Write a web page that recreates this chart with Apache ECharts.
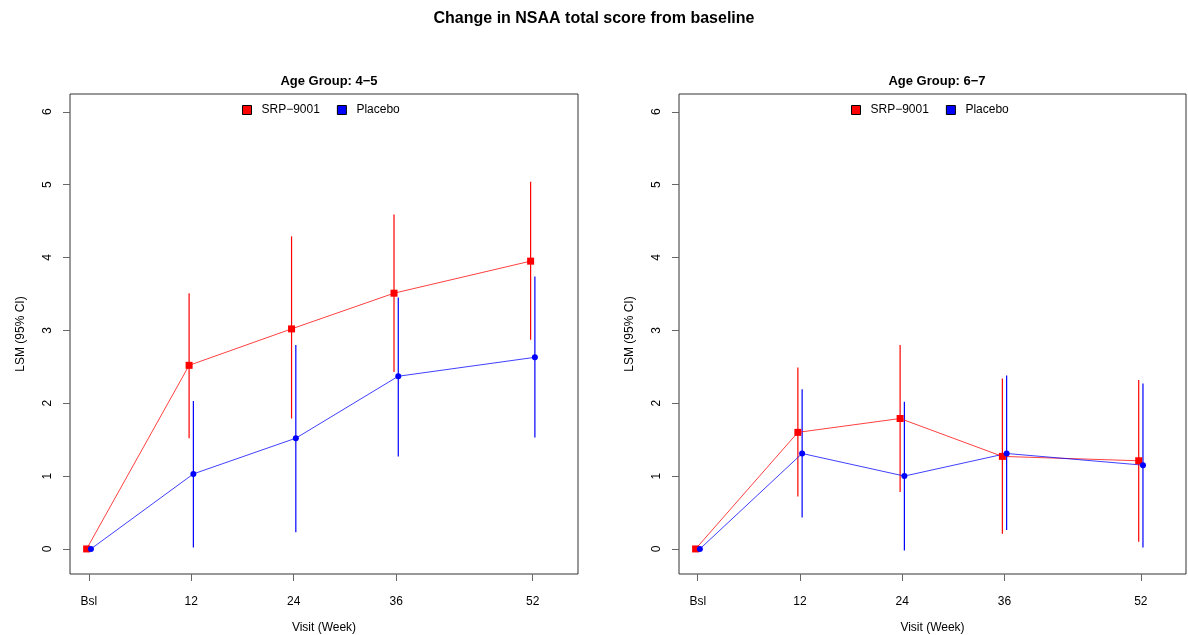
<!DOCTYPE html>
<html>
<head>
<meta charset="utf-8">
<script src="https://cdn.jsdelivr.net/npm/echarts@6/dist/echarts.min.js"></script>
<style>html,body{margin:0;padding:0;background:#fff}#c{width:1188px;height:635px}</style>
</head>
<body>
<div id="c"></div>
<script>
// ---- data ----
const weeks = [0, 12, 24, 36, 52];
const weekLabels = ['Bsl', '12', '24', '36', '52'];
const yTicks = [0, 1, 2, 3, 4, 5, 6];
const seriesNames = ['SRP\u22129001', 'Placebo'];
const panelTitles = ['Age Group: 4\u22125', 'Age Group: 6\u22127'];

const g45SrpMean = [0, 2.52, 3.02, 3.51, 3.95];
const g45SrpLo   = [0, 1.52, 1.79, 2.43, 2.87];
const g45SrpHi   = [0, 3.51, 4.29, 4.59, 5.04];
const g45PboMean = [0, 1.03, 1.52, 2.37, 2.63];
const g45PboLo   = [0, 0.02, 0.23, 1.27, 1.53];
const g45PboHi   = [0, 2.03, 2.80, 3.45, 3.74];

const g67SrpMean = [0, 1.60, 1.79, 1.27, 1.21];
const g67SrpLo   = [0, 0.72, 0.78, 0.21, 0.10];
const g67SrpHi   = [0, 2.49, 2.80, 2.34, 2.32];
const g67PboMean = [0, 1.31, 1.00, 1.31, 1.15];
const g67PboLo   = [0, 0.43, -0.02, 0.26, 0.02];
const g67PboHi   = [0, 2.19, 2.02, 2.38, 2.27];

// ---- chart ----
const FONT = '"Liberation Sans", Arial, Helvetica, sans-serif';
const RED = '#ff0000', BLUE = '#0000ff';
const dodge = [-0.25, 0.25];

const panels = [
  {srp: [g45SrpMean, g45SrpLo, g45SrpHi], pbo: [g45PboMean, g45PboLo, g45PboHi]},
  {srp: [g67SrpMean, g67SrpLo, g67SrpHi], pbo: [g67PboMean, g67PboLo, g67PboHi]}
];
const grids = [
  {left: 70, right: 610, top: 94, bottom: 61},
  {left: 679, right: 2, top: 94, bottom: 61}
];

const option = {
  animation: false,
  backgroundColor: '#fff',
  textStyle: {fontFamily: FONT},
  title: [
    {text: 'Change in NSAA total score from baseline', left: 'center', top: 6,
     textStyle: {fontFamily: FONT, fontSize: 16, fontWeight: 'bold', color: '#000'}},
    {text: panelTitles[0], left: 324, top: 70, textAlign: 'center',
     textStyle: {fontFamily: FONT, fontSize: 13, fontWeight: 'bold', color: '#000'}},
    {text: panelTitles[1], left: 932, top: 70, textAlign: 'center',
     textStyle: {fontFamily: FONT, fontSize: 13, fontWeight: 'bold', color: '#000'}}
  ],
  legend: [0, 1].map(p => ({
    left: grids[p].left + 172, top: 104, padding: 0, itemWidth: 9, itemHeight: 9, itemGap: 17,
    textStyle: {fontFamily: FONT, fontSize: 12, color: '#000', padding: [0, 0, 0, 5]},
    selectedMode: false,
    data: [
      {name: seriesNames[0], icon: 'rect', itemStyle: {color: RED, borderColor: '#000', borderWidth: 1}},
      {name: seriesNames[1], icon: 'rect', itemStyle: {color: BLUE, borderColor: '#000', borderWidth: 1}}
    ]
  })),
  grid: grids.map(g => Object.assign({show: true, borderColor: '#333', borderWidth: 1,
    backgroundColor: 'transparent', containLabel: false, outerBoundsMode: 'none'}, g)),
  xAxis: [0, 1].map(p => ({
    type: 'value', gridIndex: p, min: -2.2, max: 57.3, position: 'bottom',
    name: 'Visit (Week)', nameLocation: 'middle', nameGap: 48,
    nameTextStyle: {fontFamily: FONT, fontSize: 12, color: '#000'},
    splitLine: {show: false}, axisLine: {show: false, onZero: false},
    axisTick: {show: true, length: 7, customValues: weeks, lineStyle: {color: '#666'}},
    axisLabel: {customValues: weeks, margin: 22, fontFamily: FONT, fontSize: 12, color: '#000',
      formatter: v => weekLabels[weeks.indexOf(v)]}
  })),
  yAxis: [0, 1].map(p => ({
    type: 'value', gridIndex: p, min: -0.344, max: 6.244, position: 'left',
    name: 'LSM (95% CI)', nameLocation: 'middle', nameGap: 43, nameRotate: 90,
    nameTextStyle: {fontFamily: FONT, fontSize: 12, color: '#000'},
    splitLine: {show: false}, axisLine: {show: false, onZero: false},
    axisTick: {show: true, length: 7, customValues: yTicks, lineStyle: {color: '#666'}},
    axisLabel: {customValues: yTicks, rotate: 90, margin: 16, fontFamily: FONT, fontSize: 12, color: '#000'}
  })),
  series: []
};

function errSeries(name, color, p, off, lo, hi) {
  return {
    name: name, type: 'custom', xAxisIndex: p, yAxisIndex: p, z: 2,
    data: weeks.map((w, i) => [w + off, lo[i], hi[i]]),
    renderItem: (params, api) => {
      const a = api.coord([api.value(0), api.value(1)]);
      const b = api.coord([api.value(0), api.value(2)]);
      return {type: 'line', shape: {x1: a[0], y1: a[1], x2: b[0], y2: b[1]},
              style: {stroke: color, lineWidth: 1.2}};
    }
  };
}
function lineSeries(name, color, p, off, mean, sym, size) {
  return {
    name: name, type: 'line', xAxisIndex: p, yAxisIndex: p, z: 3,
    data: weeks.map((w, i) => [w + off, mean[i]]),
    symbol: sym, symbolSize: size, showSymbol: true,
    itemStyle: {color: color},
    lineStyle: {color: color, width: 1, opacity: 0.75}
  };
}
[0, 1].forEach(p => {
  const d = panels[p];
  option.series.push(errSeries(seriesNames[0], RED, p, dodge[0], d.srp[1], d.srp[2]));
  option.series.push(errSeries(seriesNames[1], BLUE, p, dodge[1], d.pbo[1], d.pbo[2]));
  option.series.push(lineSeries(seriesNames[0], RED, p, dodge[0], d.srp[0], 'rect', 7));
  option.series.push(lineSeries(seriesNames[1], BLUE, p, dodge[1], d.pbo[0], 'circle', 6));
});

const chart = echarts.init(document.getElementById('c'), null, {renderer: 'canvas'});
chart.setOption(option);
</script>
</body>
</html>
